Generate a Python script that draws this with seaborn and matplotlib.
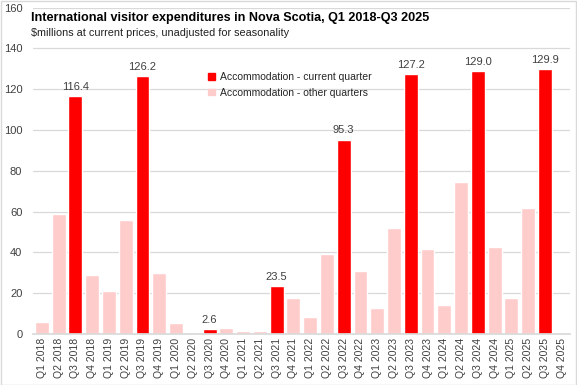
import matplotlib
matplotlib.use("Agg")
import matplotlib.pyplot as plt
import seaborn as sns
import pandas as pd
import numpy as np
from matplotlib.patches import Patch

quarters = [f"Q{q} {y}" for y in range(2018, 2026) for q in range(1, 5)]
values = [5.8, 58.7, 116.4, 28.7,
          21.3, 55.7, 126.2, 29.7,
          5.6, 0.5, 2.6, 2.8,
          1.6, 1.3, 23.5, 17.5,
          8.5, 39.0, 95.3, 31.1,
          12.9, 51.8, 127.2, 41.5,
          14.4, 74.4, 129.0, 42.5,
          17.4, 61.6, 129.9, np.nan]
series_names = ["Accommodation - current quarter", "Accommodation - other quarters"]
types = [series_names[0] if q.startswith("Q3") else series_names[1] for q in quarters]

df = pd.DataFrame({"quarter": quarters, "value": values, "type": types})

sns.set_theme(style="white")
plt.rcParams['font.family'] = ['Liberation Sans', 'DejaVu Sans']

fig = plt.figure(figsize=(5.77, 3.85), dpi=100)
ax = fig.add_axes([0.058, 0.1325, 0.930, 0.848])

palette = {series_names[0]: "#FF0000", series_names[1]: "#FFCCCC"}
sns.barplot(data=df, x="quarter", y="value", hue="type", order=quarters,
            hue_order=series_names, palette=palette, dodge=False, width=0.83,
            saturation=1, ax=ax, legend=False)

ax.set_ylim(0, 160)
ax.set_yticks(range(0, 161, 20))
ax.yaxis.grid(True, color="#D9D9D9", linewidth=0.9)
ax.set_axisbelow(True)
ax.set_xlim(-0.5, len(quarters) - 0.5)
ax.set_xlabel("")
ax.set_ylabel("")
for s in ["top", "right", "left"]:
    ax.spines[s].set_visible(False)
ax.spines["bottom"].set_color("#D9D9D9")
ax.tick_params(axis="x", labelrotation=90, labelsize=7.5, colors="#404040", length=0, pad=3)
ax.tick_params(axis="y", labelsize=8, colors="#404040", length=0, pad=8)

cont = ax.containers[0]
ax.bar_label(cont, fmt="{:.1f}", fontsize=8, color="#404040", padding=3)

handles = [Patch(color=palette[n]) for n in series_names]
ax.legend(handles, series_names, loc="upper left", bbox_to_anchor=(0.318, 0.815),
          frameon=False, fontsize=7.5, handlelength=0.6, handleheight=0.6,
          handletextpad=0.5, labelspacing=0.55, borderaxespad=0)

fig.text(0.053, 0.968, "International visitor expenditures in Nova Scotia, Q1 2018-Q3 2025",
         fontsize=9.1, fontweight="bold", va="top", ha="left", color="#000000")
fig.text(0.053, 0.927, "$millions at current prices, unadjusted for seasonality",
         fontsize=7.8, va="top", ha="left", color="#202020")

fig.patches.append(plt.Rectangle((0.001, 0.001), 0.997, 0.997, transform=fig.transFigure,
                                 fill=False, edgecolor="#D9D9D9", linewidth=1))

fig.savefig("out.png", dpi=100)
